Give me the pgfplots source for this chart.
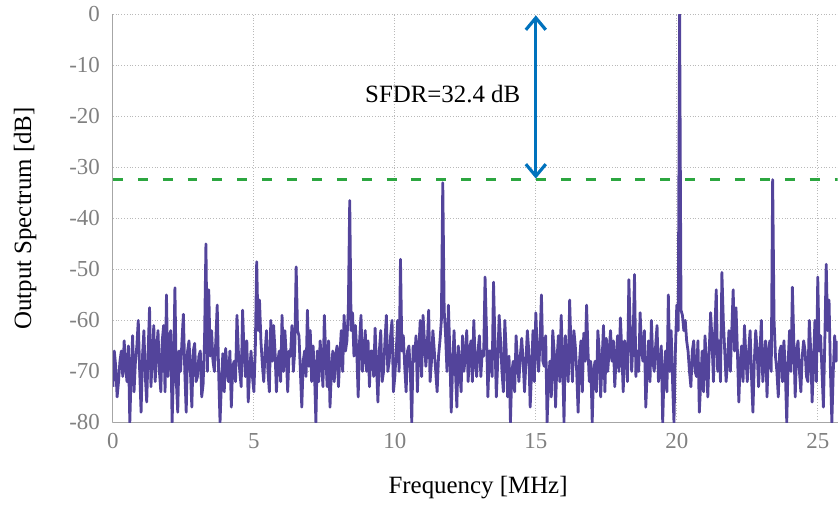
\documentclass[border=0pt]{standalone}
\usepackage{fontspec}
\setmainfont{Liberation Serif}
\usepackage{pgfplots}
\pgfplotsset{compat=1.18}
\usetikzlibrary{arrows.meta}

\definecolor{specline}{RGB}{83,68,155}
\definecolor{sfdrblue}{RGB}{0,114,189}
\definecolor{sfdrgreen}{RGB}{44,166,64}

\begin{document}
\begin{tikzpicture}
\begin{axis}[
  width=364pt, height=205pt,
  scale only axis,
  xmin=0, xmax=25.7,
  ymin=-80, ymax=0,
  xtick={0,5,10,15,20,25},
  ytick={0,-10,-20,-30,-40,-50,-60,-70,-80},
  axis x line*=bottom,
  axis y line*=left,
  axis line style={gray!70, -},
  tick style={draw=none},
  grid=major,
  major grid style={gray!55, densely dotted, line width=0.5pt},
  tick label style={font=\fontsize{11.5}{13}\selectfont, text=gray},
  xticklabel style={yshift=-2pt},
  yticklabel style={xshift=-3pt},
  /pgf/number format/assume math mode=true,
  xlabel={Frequency [MHz]},
  ylabel={Output Spectrum [dB]},
  label style={font=\fontsize{12.5}{14}\selectfont},
  xlabel style={at={(axis description cs:0.504,-0.159)}, anchor=center},
  ylabel style={at={(axis description cs:-0.121,0.5)}, anchor=center, inner ysep=7pt},
  clip=true,
]
% SFDR reference level
\addplot[sfdrgreen, line width=1.5pt, dash pattern=on 5pt off 7.5pt] coordinates {(0,-32.4) (25.7,-32.4)};

% output spectrum
\addplot[specline, line width=1.4pt, line join=round] coordinates {
(0.0,-73) (0.05,-66) (0.1,-69) (0.15,-75) (0.2,-72) (0.25,-68) (0.3,-66) (0.35,-71) (0.4,-64) (0.45,-69)
(0.5,-72) (0.55,-65) (0.6,-80) (0.65,-70) (0.7,-63) (0.75,-74) (0.8,-68) (0.85,-65) (0.9,-60) (0.95,-70)
(1.0,-78) (1.05,-67) (1.1,-62) (1.15,-71) (1.2,-76) (1.25,-66) (1.3,-57.5) (1.35,-73) (1.4,-67) (1.45,-61)
(1.5,-72) (1.55,-66) (1.6,-62) (1.65,-70) (1.7,-74) (1.75,-64) (1.8,-61) (1.85,-74) (1.9,-55) (1.95,-71)
(2.0,-64) (2.05,-62) (2.1,-80) (2.15,-70) (2.2,-53.6) (2.25,-72) (2.3,-78) (2.35,-66) (2.4,-70) (2.45,-64)
(2.5,-58.8) (2.55,-70) (2.6,-78) (2.65,-66) (2.7,-64) (2.75,-70) (2.8,-77) (2.85,-66) (2.9,-64.5) (2.95,-72)
(3.0,-71) (3.05,-67) (3.1,-66) (3.15,-75) (3.2,-72.5) (3.25,-64) (3.3,-45) (3.35,-70) (3.4,-54) (3.45,-67)
(3.5,-62) (3.55,-68) (3.6,-70) (3.65,-64) (3.7,-57) (3.75,-70) (3.8,-80) (3.85,-72) (3.9,-66.5) (3.95,-74)
(4.0,-65.5) (4.05,-70) (4.1,-72) (4.15,-66) (4.2,-77) (4.25,-69) (4.3,-68) (4.35,-72) (4.4,-59) (4.45,-66)
(4.5,-70) (4.55,-73) (4.6,-58) (4.65,-66) (4.7,-71) (4.75,-64) (4.8,-76) (4.85,-70) (4.9,-66) (4.95,-71)
(5.0,-74) (5.05,-66) (5.1,-48.5) (5.15,-62) (5.2,-56) (5.25,-64) (5.3,-68.5) (5.35,-72) (5.4,-66) (5.45,-62)
(5.5,-70) (5.55,-74) (5.6,-60) (5.65,-68) (5.7,-61) (5.75,-66) (5.8,-74) (5.85,-68) (5.9,-66) (5.95,-72)
(6.0,-59) (6.05,-70) (6.1,-62) (6.15,-67) (6.2,-74) (6.25,-66) (6.3,-67) (6.35,-61) (6.4,-70) (6.45,-66)
(6.5,-49.5) (6.55,-62) (6.6,-63) (6.65,-70) (6.7,-77) (6.75,-68) (6.8,-66) (6.85,-71) (6.9,-58) (6.95,-69)
(7.0,-62) (7.05,-72) (7.1,-65) (7.15,-70) (7.2,-80) (7.25,-66) (7.3,-72) (7.35,-64) (7.4,-68) (7.45,-73)
(7.5,-59) (7.55,-67) (7.6,-73) (7.65,-64) (7.7,-77) (7.75,-70) (7.8,-66) (7.85,-72) (7.9,-67) (7.95,-65)
(8.0,-73) (8.05,-67) (8.1,-62) (8.15,-70) (8.2,-59) (8.25,-66) (8.3,-64) (8.35,-58) (8.4,-36.5) (8.45,-62)
(8.5,-58.5) (8.55,-67) (8.6,-61) (8.65,-66) (8.7,-75) (8.75,-64) (8.8,-59) (8.85,-70) (8.9,-67) (8.95,-62)
(9.0,-70) (9.05,-64) (9.1,-73) (9.15,-66) (9.2,-66) (9.25,-71) (9.3,-61.5) (9.35,-69) (9.4,-76) (9.45,-66)
(9.5,-62) (9.55,-72) (9.6,-70) (9.65,-64) (9.7,-59) (9.75,-70) (9.8,-68) (9.85,-63) (9.9,-60) (9.95,-74)
(10.0,-71) (10.05,-66) (10.1,-60) (10.15,-70) (10.2,-48) (10.25,-66) (10.3,-63) (10.35,-69) (10.4,-74) (10.45,-66)
(10.5,-65) (10.55,-70) (10.6,-80) (10.65,-65) (10.7,-68) (10.75,-63) (10.8,-74) (10.85,-66) (10.9,-60) (10.95,-71)
(11.0,-59) (11.05,-64) (11.1,-69) (11.15,-65) (11.2,-58) (11.25,-72) (11.3,-68) (11.35,-62) (11.4,-66) (11.45,-70)
(11.5,-74) (11.55,-67) (11.6,-64) (11.65,-60) (11.7,-33) (11.75,-58) (11.8,-63) (11.85,-70) (11.9,-57) (11.95,-66)
(12.0,-78) (12.05,-69) (12.1,-62) (12.15,-70) (12.2,-77) (12.25,-65) (12.3,-69) (12.35,-74) (12.4,-63) (12.45,-70)
(12.5,-67) (12.55,-62) (12.6,-72) (12.65,-66) (12.7,-64) (12.75,-72) (12.8,-60) (12.85,-68) (12.9,-71) (12.95,-66)
(13.0,-63) (13.05,-71) (13.1,-66) (13.15,-67) (13.2,-51.5) (13.25,-62) (13.3,-75) (13.35,-66) (13.4,-66) (13.45,-71)
(13.5,-52.5) (13.55,-64) (13.6,-75) (13.65,-68) (13.7,-59) (13.75,-64) (13.8,-70) (13.85,-74) (13.9,-60) (13.95,-66)
(14.0,-75) (14.05,-67) (14.1,-80) (14.15,-70) (14.2,-68) (14.25,-74) (14.3,-63) (14.35,-68) (14.4,-72) (14.45,-67)
(14.5,-63.5) (14.55,-68) (14.6,-74) (14.65,-68) (14.7,-62) (14.75,-66) (14.8,-77) (14.85,-70) (14.9,-62) (14.95,-72)
(15.0,-58.5) (15.05,-66) (15.1,-70) (15.15,-64) (15.2,-55) (15.25,-68) (15.3,-69) (15.35,-63) (15.4,-80) (15.45,-72)
(15.5,-68) (15.55,-75) (15.6,-62) (15.65,-66) (15.7,-77) (15.75,-68) (15.8,-63) (15.85,-72) (15.9,-59) (15.95,-68)
(16.0,-80) (16.05,-63) (16.1,-68) (16.15,-72) (16.2,-56) (16.25,-66) (16.3,-72) (16.35,-62) (16.4,-65) (16.45,-70)
(16.5,-78) (16.55,-68) (16.6,-64) (16.65,-74) (16.7,-62.5) (16.75,-68) (16.8,-57) (16.85,-66) (16.9,-72) (16.95,-68)
(17.0,-80) (17.05,-70) (17.1,-68) (17.15,-74) (17.2,-62) (17.25,-66) (17.3,-75) (17.35,-68) (17.4,-61) (17.45,-74)
(17.5,-63.5) (17.55,-70) (17.6,-66) (17.65,-62) (17.7,-68) (17.75,-64) (17.8,-73) (17.85,-67) (17.9,-63) (17.95,-70)
(18.0,-59.5) (18.05,-66) (18.1,-74) (18.15,-64) (18.2,-66) (18.25,-72) (18.3,-52) (18.35,-62) (18.4,-70) (18.45,-64)
(18.5,-51) (18.55,-71) (18.6,-66) (18.65,-70) (18.7,-58.5) (18.75,-66) (18.8,-68) (18.85,-62) (18.9,-77) (18.95,-70)
(19.0,-64) (19.05,-72) (19.1,-60) (19.15,-68) (19.2,-70) (19.25,-65) (19.3,-61) (19.35,-72) (19.4,-70) (19.45,-65)
(19.5,-80) (19.55,-70) (19.6,-66) (19.65,-74) (19.7,-55) (19.75,-70) (19.8,-62) (19.85,-72) (19.9,-80) (19.95,-66)
(20.0,-57) (20.05,-62) (20.1,0) (20.15,-58) (20.2,-59) (20.25,-62) (20.3,-60) (20.35,-64) (20.4,-66) (20.45,-70)
(20.5,-73) (20.55,-66) (20.6,-64) (20.65,-70) (20.7,-71) (20.75,-64) (20.8,-78) (20.85,-72) (20.9,-66) (20.95,-74)
(21.0,-63) (21.05,-68) (21.1,-75) (21.15,-66) (21.2,-58.5) (21.25,-64) (21.3,-72) (21.35,-62) (21.4,-54) (21.45,-70)
(21.5,-64) (21.55,-72) (21.6,-50.6) (21.65,-60) (21.7,-66) (21.75,-72) (21.8,-68) (21.85,-62) (21.9,-70) (21.95,-62)
(22.0,-54) (22.05,-66) (22.1,-57.5) (22.15,-66) (22.2,-76) (22.25,-68) (22.3,-65) (22.35,-72) (22.4,-61) (22.45,-67)
(22.5,-72) (22.55,-66) (22.6,-62) (22.65,-71) (22.7,-78) (22.75,-68) (22.8,-62) (22.85,-66) (22.9,-73) (22.95,-66)
(23.0,-60) (23.05,-72) (23.1,-68) (23.15,-64) (23.2,-75) (23.25,-66) (23.3,-64) (23.35,-70) (23.4,-32.4) (23.45,-60)
(23.5,-67) (23.55,-70) (23.6,-75) (23.65,-66) (23.7,-65) (23.75,-72) (23.8,-64) (23.85,-70) (23.9,-80) (23.95,-68)
(24.0,-62) (24.05,-70) (24.1,-53.5) (24.15,-64) (24.2,-75) (24.25,-66) (24.3,-64) (24.35,-70) (24.4,-74) (24.45,-67)
(24.5,-64) (24.55,-66) (24.6,-71) (24.65,-72) (24.7,-60) (24.75,-66) (24.8,-76) (24.85,-68) (24.9,-60) (24.95,-72)
(25.0,-51.5) (25.05,-66) (25.1,-63) (25.15,-70) (25.2,-77) (25.25,-64) (25.3,-49) (25.35,-62) (25.4,-56) (25.45,-70)
(25.5,-80) (25.55,-70) (25.6,-63) (25.65,-68) (25.7,-64)
};

% SFDR annotation
\draw[sfdrblue, line width=1.6pt, {Straight Barb[length=6pt,width=10pt]}-{Straight Barb[length=6pt,width=10pt]}]
  (axis cs:15,-0.2) -- (axis cs:15,-32.2);
\node[font=\fontsize{12.5}{14}\selectfont] at (axis cs:11.7,-15.6) {SFDR=32.4 dB};
\end{axis}
\end{tikzpicture}
\end{document}
